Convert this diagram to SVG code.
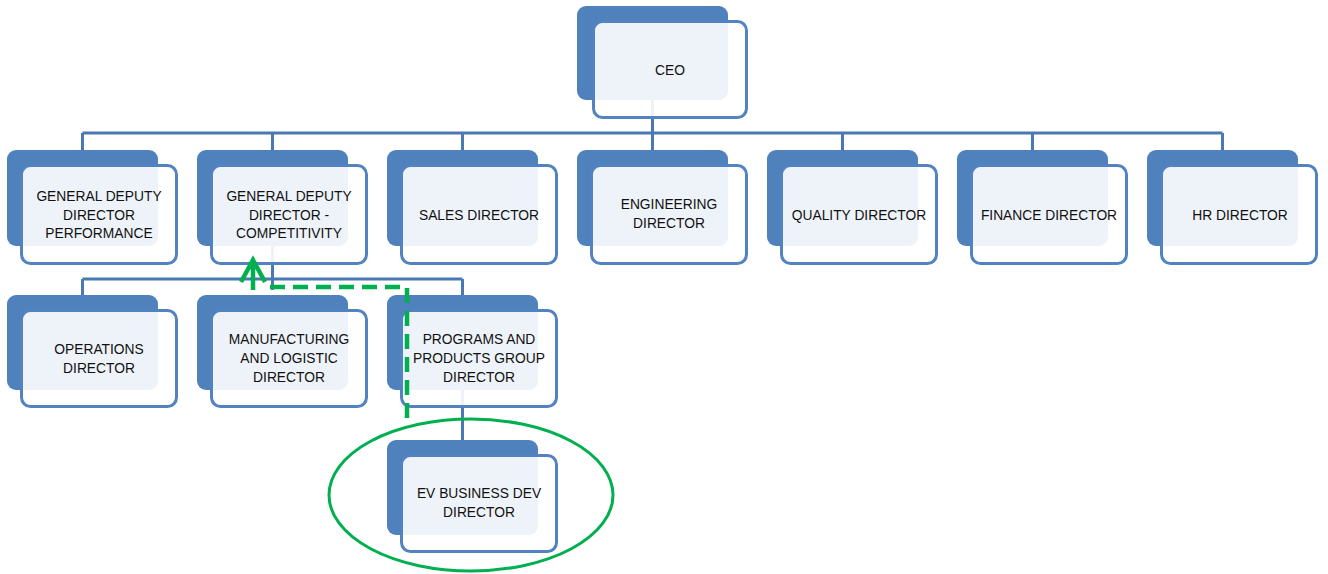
<svg xmlns="http://www.w3.org/2000/svg" width="1328" height="574" viewBox="0 0 1328 574">
<style>
.bk{fill:#4F81BD}
.fr{fill:#FFFFFF;fill-opacity:0.9;stroke:#5283C0;stroke-width:3}
.t{font-family:"Liberation Sans",Arial,sans-serif;font-size:13.8px;fill:#111111;text-anchor:middle}
.cn{fill:none;stroke:#4A78B2;stroke-width:3}
.gr{fill:none;stroke:#00B050;stroke-width:4.5}
</style>
<rect width="1328" height="574" fill="#FFFFFF"/>
<g id="connectors">
<path class="cn" d="M652.5,100 V133 M82.5,133 H1222.5 M82.5,133 V150 M272.5,133 V150 M462.5,133 V150 M652.5,133 V150 M842.5,133 V150 M1032.5,133 V150 M1222.5,133 V150"/>
<path class="cn" d="M272.5,246 V290 M82.5,279 H462.5 M82.5,279 V295 M462.5,279 V295"/>
<path class="cn" d="M462.5,390 V440"/>
</g>
<g id="ceo"><rect class="bk" x="577" y="6" width="151" height="94" rx="9"/><rect class="fr" x="593.5" y="21.5" width="153" height="96" rx="9"/><text class="t" x="670" y="75">CEO</text></g>
<g id="gdd-performance"><rect class="bk" x="7" y="150" width="151" height="96" rx="9"/><rect class="fr" x="21.5" y="165.5" width="155" height="98" rx="9"/><text class="t" x="99" y="201">GENERAL DEPUTY</text><text class="t" x="99" y="219.5">DIRECTOR</text><text class="t" x="99" y="238">PERFORMANCE</text></g>
<g id="gdd-competitivity"><rect class="bk" x="197" y="150" width="151" height="96" rx="9"/><rect class="fr" x="211.5" y="165.5" width="155" height="98" rx="9"/><text class="t" x="289" y="201">GENERAL DEPUTY</text><text class="t" x="289" y="219.5">DIRECTOR -</text><text class="t" x="289" y="238">COMPETITIVITY</text></g>
<g id="sales"><rect class="bk" x="387" y="150" width="151" height="96" rx="9"/><rect class="fr" x="401.5" y="165.5" width="155" height="98" rx="9"/><text class="t" x="479" y="219.5">SALES DIRECTOR</text></g>
<g id="engineering"><rect class="bk" x="577" y="150" width="151" height="96" rx="9"/><rect class="fr" x="591.5" y="165.5" width="155" height="98" rx="9"/><text class="t" x="669" y="209">ENGINEERING</text><text class="t" x="669" y="228">DIRECTOR</text></g>
<g id="quality"><rect class="bk" x="767" y="150" width="151" height="96" rx="9"/><rect class="fr" x="781.5" y="165.5" width="155" height="98" rx="9"/><text class="t" x="859" y="219.5">QUALITY DIRECTOR</text></g>
<g id="finance"><rect class="bk" x="957" y="150" width="151" height="96" rx="9"/><rect class="fr" x="971.5" y="165.5" width="155" height="98" rx="9"/><text class="t" x="1049" y="219.5">FINANCE DIRECTOR</text></g>
<g id="hr"><rect class="bk" x="1147" y="150" width="151" height="96" rx="9"/><rect class="fr" x="1161.5" y="165.5" width="155" height="98" rx="9"/><text class="t" x="1240" y="219.5">HR DIRECTOR</text></g>
<g id="operations"><rect class="bk" x="7" y="295" width="151" height="95" rx="9"/><rect class="fr" x="21.5" y="310.5" width="155" height="96" rx="9"/><text class="t" x="99" y="354">OPERATIONS</text><text class="t" x="99" y="373">DIRECTOR</text></g>
<g id="manufacturing"><rect class="bk" x="197" y="295" width="151" height="95" rx="9"/><rect class="fr" x="211.5" y="310.5" width="155" height="96" rx="9"/><text class="t" x="289" y="344">MANUFACTURING</text><text class="t" x="289" y="363">AND LOGISTIC</text><text class="t" x="289" y="382">DIRECTOR</text></g>
<g id="programs"><rect class="bk" x="387" y="295" width="151" height="95" rx="9"/><rect class="fr" x="401.5" y="310.5" width="155" height="96" rx="9"/><text class="t" x="479" y="344">PROGRAMS AND</text><text class="t" x="479" y="363">PRODUCTS GROUP</text><text class="t" x="479" y="382">DIRECTOR</text></g>
<g id="ev-business"><rect class="bk" x="387" y="440" width="151" height="95" rx="9"/><rect class="fr" x="401.5" y="455.5" width="155" height="96" rx="9"/><text class="t" x="479" y="498">EV BUSINESS DEV</text><text class="t" x="479" y="517">DIRECTOR</text></g>
<g id="highlight">
<ellipse cx="471" cy="495" rx="142" ry="76" fill="none" stroke="#00B050" stroke-width="3"/>
<path class="gr" d="M407,418 V287 H262" stroke-dasharray="15 8"/>
<path class="gr" d="M253,290 V260 M241,282 L253,260 L265,282"/>
</g>
</svg>
